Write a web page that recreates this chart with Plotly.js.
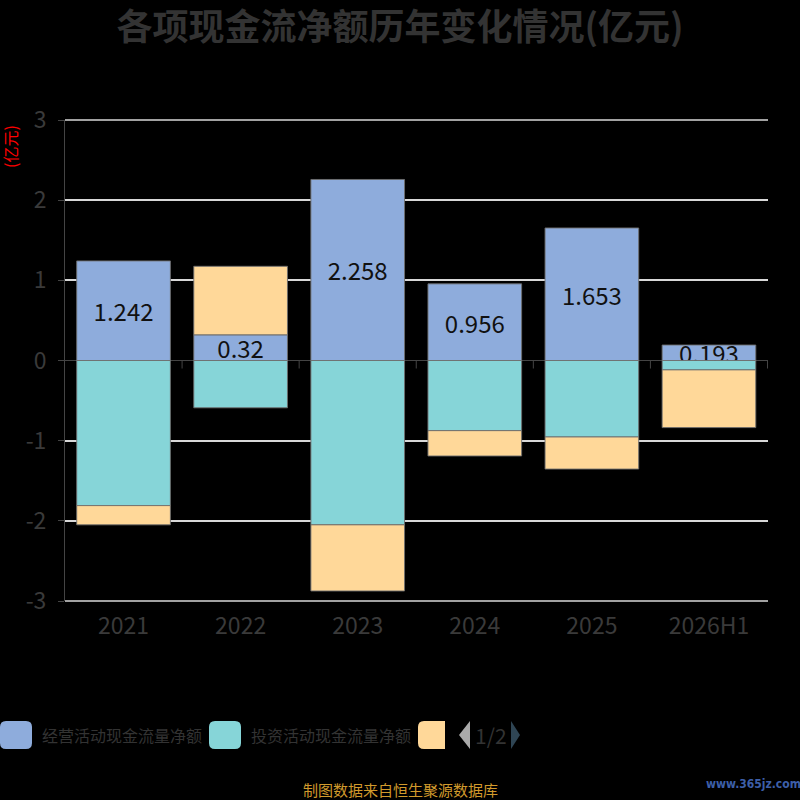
<!DOCTYPE html>
<html>
<head>
<meta charset="utf-8">
<script src="https://cdn.plot.ly/plotly-3.0.1.min.js"></script>
<style>
	html, body { margin: 0; padding: 0; background: #000; }
	#chart { width: 800px; height: 800px; }
</style>
</head>
<body>
<div id="chart"></div>
<script>
// data (亿元)
var years = ['2021', '2022', '2023', '2024', '2025', '2026H1'];
var operating = [1.242, 0.32, 2.258, 0.956, 1.653, 0.193];
var investing = [-1.81, -0.59, -2.05, -0.875, -0.954, -0.117];
var financing = [-0.24, 0.855, -0.825, -0.316, -0.40, -0.72];
var seriesNames = ['经营活动现金流量净额', '投资活动现金流量净额', '筹资活动现金流量净额'];
var yTicks = [-3, -2, -1, 0, 1, 2, 3];

var colors = ['#8eacdc', '#86d5d8', '#ffd899'];
var FONT = '"Noto Sans CJK SC", "Noto Sans", sans-serif';

// plot area in page pixels
var PL = 65, PR = 768, PT = 120, PB = 601;

// page pixel -> paper coords
function px(x) { return (x - PL) / (PR - PL); }
function py(y) { return (PB - y) / (PB - PT); }

function roundRect(x0, y0, x1, y1, r, squareRight) {
	// rounded box in page pixels, returned as a paper path
	var p = 'M' + px(x0 + r) + ',' + py(y0);
	if (squareRight) {
		p += ' L' + px(x1) + ',' + py(y0) + ' L' + px(x1) + ',' + py(y1);
	} else {
		p += ' L' + px(x1 - r) + ',' + py(y0);
		p += ' Q' + px(x1) + ',' + py(y0) + ' ' + px(x1) + ',' + py(y0 + r);
		p += ' L' + px(x1) + ',' + py(y1 - r);
		p += ' Q' + px(x1) + ',' + py(y1) + ' ' + px(x1 - r) + ',' + py(y1);
	}
	p += ' L' + px(x0 + r) + ',' + py(y1);
	p += ' Q' + px(x0) + ',' + py(y1) + ' ' + px(x0) + ',' + py(y1 - r);
	p += ' L' + px(x0) + ',' + py(y0 + r);
	p += ' Q' + px(x0) + ',' + py(y0) + ' ' + px(x0 + r) + ',' + py(y0) + ' Z';
	return p;
}

var barLine = {color: 'rgba(110,110,110,0.9)', width: 1};

var data = [
	{
		type: 'bar', name: seriesNames[0], x: years, y: operating,
		marker: {color: colors[0], line: barLine},
		text: operating.map(String),
		textposition: 'inside', insidetextanchor: 'middle', textangle: 0,
		constraintext: 'none',
		textfont: {family: FONT, size: 24, color: '#111'},
		hoverinfo: 'x+y'
	},
	{
		type: 'bar', name: seriesNames[1], x: years, y: investing,
		marker: {color: colors[1], line: barLine}, hoverinfo: 'x+y'
	},
	{
		type: 'bar', name: seriesNames[2], x: years, y: financing,
		marker: {color: colors[2], line: barLine}, hoverinfo: 'x+y'
	}
];

var shapes = [];
var annotations = [];

// plotly skips grid lines on the range ends (3 and -3), so draw those two on the plot edges
[0, 1].forEach(function(edge) {
	shapes.push({
		type: 'line', xref: 'paper', yref: 'paper', x0: 0, x1: 1, y0: edge, y1: edge,
		line: {color: '#d8d8d8', width: 1.5}, layer: 'below'
	});
});

// small ticks on the zero line between categories
for (var i = 0; i < years.length; i++) {
	shapes.push({
		type: 'line', xref: 'x', yref: 'y', x0: i + 0.5, x1: i + 0.5,
		ysizemode: 'pixel', yanchor: 0, y0: 0, y1: -8,
		line: {color: '#444', width: 1}, layer: 'below'
	});
}

// legend drawn by hand (the third label is cut off in the original, paged 1/2)
var legendX = [0, 209, 418];
var legendTop = 721, legendBottom = 749;
for (var k = 0; k < seriesNames.length; k++) {
	var clipped = (k === 2);
	shapes.push({
		type: 'path', xref: 'paper', yref: 'paper',
		path: roundRect(legendX[k], legendTop, clipped ? 445 : legendX[k] + 32, legendBottom, 6, clipped),
		fillcolor: colors[k], line: {width: 0}
	});
	if (!clipped) {
		annotations.push({
			xref: 'paper', yref: 'paper', x: px(legendX[k] + 40), y: py(735),
			xanchor: 'left', yanchor: 'middle', showarrow: false,
			text: seriesNames[k], font: {family: FONT, size: 16, color: '#333'}
		});
	}
}
// page arrows
shapes.push({
	type: 'path', xref: 'paper', yref: 'paper',
	path: 'M' + px(470) + ',' + py(721) + ' L' + px(459) + ',' + py(735) + ' L' + px(470) + ',' + py(749) + ' Z',
	fillcolor: '#aaa', line: {width: 0}
});
shapes.push({
	type: 'path', xref: 'paper', yref: 'paper',
	path: 'M' + px(511) + ',' + py(721) + ' L' + px(520) + ',' + py(735) + ' L' + px(511) + ',' + py(749) + ' Z',
	fillcolor: '#2f4554', line: {width: 0}
});
annotations.push({
	xref: 'paper', yref: 'paper', x: px(491), y: py(735), xanchor: 'center', yanchor: 'middle',
	showarrow: false, text: '1/2', font: {family: FONT, size: 21, color: '#333'}
});

// unit label on the y axis
annotations.push({
	xref: 'paper', yref: 'paper', x: px(10), y: py(146), xanchor: 'center', yanchor: 'middle',
	showarrow: false, textangle: -90, text: '(亿元)', font: {family: FONT, size: 16, color: '#ff0000'}
});

// source line and watermark
annotations.push({
	xref: 'paper', yref: 'paper', x: px(400), y: py(789), xanchor: 'center', yanchor: 'middle',
	showarrow: false, text: '制图数据来自恒生聚源数据库', font: {family: FONT, size: 15, color: '#d19a2c'}
});
annotations.push({
	xref: 'paper', yref: 'paper', x: px(753), y: py(784), xanchor: 'center', yanchor: 'middle',
	showarrow: false, text: '<b>www.365jz.com</b>', font: {family: '"DejaVu Sans Condensed", sans-serif', size: 12, color: '#3d5fa8'}
});

var layout = {
	width: 800, height: 800,
	paper_bgcolor: '#000', plot_bgcolor: '#000',
	margin: {l: PL, r: 800 - PR, t: PT, b: 800 - PB, pad: 0},
	title: {
		text: '<b>各项现金流净额历年变化情况(亿元)</b>',
		font: {family: FONT, size: 36, color: '#333'},
		xref: 'container', x: 0.5, xanchor: 'center',
		yref: 'container', y: 1 - 27 / 800, yanchor: 'middle'
	},
	barmode: 'relative',
	bargap: 0.2,
	showlegend: false,
	xaxis: {
		type: 'category', showgrid: false, showline: false, zeroline: false,
		ticks: '', ticklabelstandoff: 9,
		tickfont: {family: FONT, size: 23, color: '#3a3a3a'}
	},
	yaxis: {
		range: [-3, 3], tickvals: yTicks, ticktext: yTicks.map(String),
		showgrid: true, gridcolor: '#d8d8d8', gridwidth: 1.5,
		zeroline: true, zerolinecolor: '#444', zerolinewidth: 1,
		showline: true, linecolor: '#444', linewidth: 1,
		ticks: 'outside', ticklen: 6, tickcolor: '#444', ticklabelstandoff: 7,
		tickfont: {family: FONT, size: 23, color: '#3a3a3a'}
	},
	shapes: shapes,
	annotations: annotations
};

Plotly.newPlot('chart', data, layout, {displayModeBar: false});
</script>
</body>
</html>
